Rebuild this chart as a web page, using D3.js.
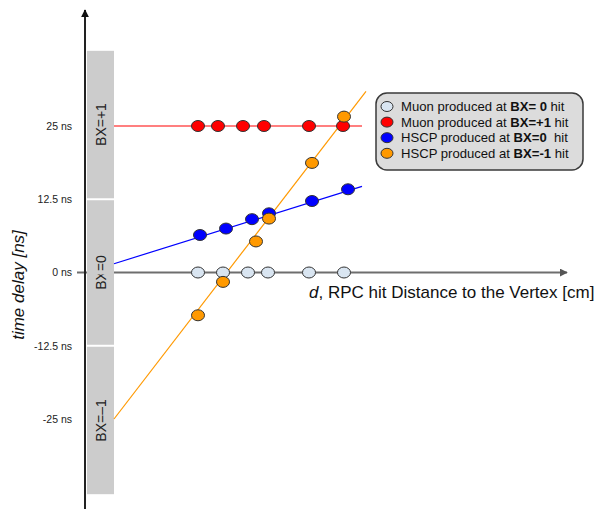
<!DOCTYPE html>
<html>
<head>
<meta charset="utf-8">
<script src="https://cdn.jsdelivr.net/npm/d3@7"></script>
<style>
  body { margin: 0; background: #fff; }
  svg { font-family: "Liberation Sans", Arial, sans-serif; }
</style>
</head>
<body>
<div id="chart"></div>
<script>
// Hit positions (d, arbitrary cm units) and time delays (ns)
const muonBX0D = [113, 138, 163, 183, 224, 259];
const muonBX0T = [0, 0, 0, 0, 0, 0];
const muonBXp1D = [113, 133, 158, 179, 224, 258];
const muonBXp1T = [25, 25, 25, 25, 25, 25];
const hscpBX0D = [115, 141, 167, 184, 227, 263];
const hscpBX0T = [6.4, 7.5, 9.1, 10.1, 12.2, 14.2];
const hscpBXm1D = [113, 138, 171, 184, 227, 259];
const hscpBXm1T = [-7.3, -1.6, 5.3, 9.2, 18.7, 26.6];

// fit lines: [d, t] endpoints
const redLine = [[29, 25], [277, 25]];
const blueLine = [[29, 1.5], [277, 14.7]];
const orangeLine = [[29, -25], [281, 30.9]];

const yTicks = [25, 12.5, 0, -12.5, -25];
const yTickLabels = ["25 ns", "12.5 ns", "0 ns", "-12.5 ns", "-25 ns"];
const bands = [
  { label: "BX=+1", top: 38, bottom: 12.5 },
  { label: "BX=0", top: 12.5, bottom: -12.5 },
  { label: "BX=\u20131", top: -12.5, bottom: -38 }
];
const legendItems = [
  { pre: "Muon produced at ", bold: "BX= 0", post: " hit", color: "#d9e5f1" },
  { pre: "Muon produced at ", bold: "BX=+1", post: " hit", color: "#ff0000" },
  { pre: "HSCP produced at ", bold: "BX=0", post: "  hit", color: "#0000ff" },
  { pre: "HSCP produced at ", bold: "BX=-1", post: " hit", color: "#ff9900" }
];

const width = 603, height = 509;
const svg = d3.select("#chart").append("svg")
  .attr("width", width)
  .attr("height", height);

const x = d3.scaleLinear().domain([0, 480]).range([85, 565]);
const y = d3.scaleLinear().domain([-25, 25]).range([419, 126]);

const defs = svg.append("defs");
defs.append("marker")
  .attr("id", "arrowK").attr("viewBox", "0 0 10 10")
  .attr("refX", 9).attr("refY", 5)
  .attr("markerWidth", 4).attr("markerHeight", 4)
  .attr("orient", "auto")
  .append("path").attr("d", "M0,0L10,5L0,10z").attr("fill", "#111");
defs.append("marker")
  .attr("id", "arrowG").attr("viewBox", "0 0 10 10")
  .attr("refX", 9).attr("refY", 5)
  .attr("markerWidth", 4).attr("markerHeight", 4)
  .attr("orient", "auto")
  .append("path").attr("d", "M0,0L10,5L0,10z").attr("fill", "#555");

// grey BX bands
const bandG = svg.append("g");
bands.forEach(b => {
  const y0 = y(b.top) + 1, y1 = y(b.bottom) - 1;
  bandG.append("rect")
    .attr("x", x(2)).attr("y", y0)
    .attr("width", x(29) - x(2)).attr("height", y1 - y0)
    .attr("fill", "#cccccc");
  bandG.append("text")
    .attr("transform", `translate(${x(15.5) + 5},${(y0 + y1) / 2}) rotate(-90)`)
    .attr("text-anchor", "middle")
    .style("font-size", "14px")
    .attr("fill", "#222")
    .text(b.label);
});

// x axis (gray line at t = 0)
svg.append("line")
  .attr("x1", x(-8)).attr("x2", x(482))
  .attr("y1", y(0)).attr("y2", y(0))
  .attr("stroke", "#6e6e6e").attr("stroke-width", 2)
  .attr("marker-end", "url(#arrowG)");
// band covers axis inside it
svg.append("rect")
  .attr("x", x(2)).attr("y", y(0) - 2)
  .attr("width", x(29) - x(2)).attr("height", 4)
  .attr("fill", "#cccccc");

// y axis
svg.append("line")
  .attr("x1", x(0)).attr("x2", x(0))
  .attr("y1", height).attr("y2", 10)
  .attr("stroke", "#222").attr("stroke-width", 2)
  .attr("marker-end", "url(#arrowK)");

const yAxis = svg.append("g")
  .attr("transform", `translate(${x(-10)},0)`)
  .call(d3.axisLeft(y).tickValues(yTicks).tickSize(0)
    .tickFormat((d, i) => yTickLabels[i]));
yAxis.select(".domain").remove();
yAxis.selectAll("text")
  .style("font-size", "10.5px")
  .style("font-family", "'Liberation Sans', Arial, sans-serif")
  .attr("fill", "#222");

// axis titles
svg.append("text")
  .attr("transform", `translate(24,285) rotate(-90)`)
  .attr("text-anchor", "middle")
  .style("font-size", "17px")
  .style("font-style", "italic")
  .attr("fill", "#111")
  .text("time delay [ns]");

const xt = svg.append("text")
  .attr("x", 309).attr("y", 298)
  .style("font-size", "17px")
  .attr("fill", "#111");
xt.append("tspan").style("font-style", "italic").text("d");
xt.append("tspan").text(", RPC hit Distance to the Vertex [cm]");

// fit lines
const line = d3.line().x(d => x(d[0])).y(d => y(d[1]));
svg.append("path").attr("d", line(redLine))
  .attr("stroke", "#ff0000").attr("stroke-width", 1.2).attr("fill", "none");
svg.append("path").attr("d", line(blueLine))
  .attr("stroke", "#0000ff").attr("stroke-width", 1.2).attr("fill", "none");
svg.append("path").attr("d", line(orangeLine))
  .attr("stroke", "#ff9900").attr("stroke-width", 1.2).attr("fill", "none");

// points
function drawPoints(ds, ts, color) {
  svg.append("g").selectAll("ellipse")
    .data(ds.map((d, i) => [d, ts[i]]))
    .join("ellipse")
    .attr("cx", d => x(d[0]))
    .attr("cy", d => y(d[1]))
    .attr("rx", 6.5).attr("ry", 5.5)
    .attr("fill", color)
    .attr("stroke", "#333").attr("stroke-width", 1);
}
drawPoints(muonBX0D, muonBX0T, "#d9e5f1");
drawPoints(muonBXp1D, muonBXp1T, "#ff0000");
drawPoints(hscpBX0D, hscpBX0T, "#0000ff");
drawPoints(hscpBXm1D, hscpBXm1T, "#ff9900");

// legend
const legend = svg.append("g").attr("transform", "translate(376,93)");
legend.append("rect")
  .attr("width", 207).attr("height", 77)
  .attr("rx", 11).attr("ry", 11)
  .attr("fill", "#dcdcdc")
  .attr("stroke", "#3a3a3a").attr("stroke-width", 1.5);
legendItems.forEach((it, i) => {
  const cy = 13.5 + i * 15.6;
  legend.append("ellipse")
    .attr("cx", 11).attr("cy", cy)
    .attr("rx", 6).attr("ry", 5)
    .attr("fill", it.color)
    .attr("stroke", "#333").attr("stroke-width", 1);
  const t = legend.append("text")
    .attr("x", 25).attr("y", cy + 4.6)
    .style("font-size", "13.1px")
    .attr("fill", "#111");
  t.append("tspan").text(it.pre);
  t.append("tspan").style("font-weight", "bold").text(it.bold);
  t.append("tspan").attr("xml:space", "preserve").text(it.post);
});
</script>
</body>
</html>
